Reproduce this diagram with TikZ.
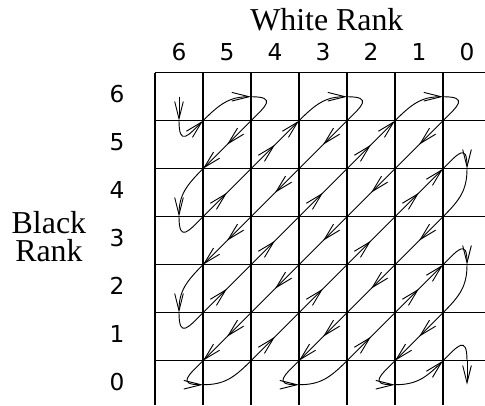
\documentclass[tikz,border=0pt]{standalone}
\usepackage{fontspec}
\setmainfont{Liberation Serif}
\newfontfamily\rankfont{DejaVu Sans}
\usetikzlibrary{arrows.meta, decorations.markings}

\begin{document}
\begin{tikzpicture}[
    x = 1cm, y = 1cm,
    >={Straight Barb[length=3.6mm, width=1.8mm]},
    gridline/.style  = {line width=0.75pt},
    ranknum/.style   = {font=\rankfont\fontsize{13.8}{16}\selectfont, inner sep=0pt, anchor=base},
    axislabel/.style = {font=\fontsize{18.9}{16.6}\selectfont, inner sep=0pt, align=center},
    walk/.style      = {line width=0.55pt},
    seg/.style       = {walk, postaction={decorate},
                        decoration={markings, mark=at position 0.5 with {\arrow{>}}}}
  ]
  \useasboundingbox (-3.229,1.515) rectangle (6.875,-6.923);

  % ── Grid and rank labels ────────────────────────────────────
  \foreach \i in {0,...,6} {
    \draw[gridline] (\i,0) -- (\i,-6.923);
    \draw[gridline] (0,-\i) -- (6.875,-\i);
    \pgfmathtruncatemacro\r{6-\i}
    \node[ranknum] (w\r) at (\i+0.5, 0.265)   {\r};
    \node[ranknum] (b\r) at (-0.79, -\i-0.617) {\r};
  }
  \node[axislabel, anchor=base] (white) at (3.58,0.89)  {White Rank};
  \node[axislabel]              (black) at (-2.21,-3.42) {Black\\Rank};

  % ── Crossings and turning points ────────────────────────────
  \foreach \u in {1,...,6}
    \foreach \v in {1,...,6}
      \coordinate (g-\u-\v) at (\u,-\v);
  \coordinate (in)       at (0.5,-0.5);
  \coordinate (in-tip)   at (0.5,-1);
  \coordinate (top-2)    at (2,-0.5);
  \coordinate (top-4)    at (4,-0.5);
  \coordinate (top-6)    at (6,-0.5);
  \coordinate (left-3)   at (0.5,-3);
  \coordinate (left-5)   at (0.5,-5);
  \coordinate (bot-1)    at (1,-6.5);
  \coordinate (bot-3)    at (3,-6.5);
  \coordinate (bot-5)    at (5,-6.5);
  \coordinate (right-2)  at (6.5,-2);
  \coordinate (right-4)  at (6.5,-4);
  \coordinate (out-bend) at (6.5,-6);
  \coordinate (out)      at (6.5,-6.5);

  % ── Entry ───────────────────────────────────────────────────
  \draw[walk, ->] (in) -- (in-tip);
  \draw[walk, ->] (in-tip) .. controls +(0,-0.55) and +(-0.3,-0.3) .. (g-1-1);

  % Top turn 1 -> 2, diagonal down
  \draw[walk, ->] (g-1-1) .. controls +(0.35,0.35) and +(-0.45,0) .. (top-2);
  \draw[walk] (top-2) .. controls +(0.55,0) and +(0.3,0.3) .. (g-2-1);
  \draw[seg, ->] (g-2-1) -- (g-1-2);

  % Left turn 2 -> 3, diagonal up
  \draw[walk, ->] (g-1-2) .. controls +(-0.35,-0.35) and +(0,0.45) .. (left-3);
  \draw[walk] (left-3) .. controls +(0,-0.55) and +(-0.3,-0.3) .. (g-1-3);
  \draw[seg] (g-1-3) -- (g-2-2);
  \draw[seg, ->] (g-2-2) -- (g-3-1);

  % Top turn 3 -> 4, diagonal down
  \draw[walk, ->] (g-3-1) .. controls +(0.35,0.35) and +(-0.45,0) .. (top-4);
  \draw[walk] (top-4) .. controls +(0.55,0) and +(0.3,0.3) .. (g-4-1);
  \draw[seg] (g-4-1) -- (g-3-2);
  \draw[seg] (g-3-2) -- (g-2-3);
  \draw[seg, ->] (g-2-3) -- (g-1-4);

  % Left turn 4 -> 5, diagonal up
  \draw[walk, ->] (g-1-4) .. controls +(-0.35,-0.35) and +(0,0.45) .. (left-5);
  \draw[walk] (left-5) .. controls +(0,-0.55) and +(-0.3,-0.3) .. (g-1-5);
  \draw[seg] (g-1-5) -- (g-2-4);
  \draw[seg] (g-2-4) -- (g-3-3);
  \draw[seg] (g-3-3) -- (g-4-2);
  \draw[seg, ->] (g-4-2) -- (g-5-1);

  % Top turn 5 -> 6, long diagonal down
  \draw[walk, ->] (g-5-1) .. controls +(0.35,0.35) and +(-0.45,0) .. (top-6);
  \draw[walk] (top-6) .. controls +(0.55,0) and +(0.3,0.3) .. (g-6-1);
  \draw[seg] (g-6-1) -- (g-5-2);
  \draw[seg] (g-5-2) -- (g-4-3);
  \draw[seg] (g-4-3) -- (g-3-4);
  \draw[seg] (g-3-4) -- (g-2-5);
  \draw[seg, ->] (g-2-5) -- (g-1-6);

  % Bottom turn 1 -> 2, diagonal up
  \draw[walk, ->] (g-1-6) .. controls +(-0.3,-0.3) and +(-0.55,0) .. (bot-1);
  \draw[walk] (bot-1) .. controls +(0.45,0) and +(-0.35,-0.35) .. (g-2-6);
  \draw[seg] (g-2-6) -- (g-3-5);
  \draw[seg] (g-3-5) -- (g-4-4);
  \draw[seg] (g-4-4) -- (g-5-3);
  \draw[seg, ->] (g-5-3) -- (g-6-2);

  % Right turn 2 -> 3, diagonal down
  \draw[walk, ->] (g-6-2) .. controls +(0.3,0.3) and +(0,0.55) .. (right-2);
  \draw[walk] (right-2) .. controls +(0,-0.45) and +(0.35,0.35) .. (g-6-3);
  \draw[seg] (g-6-3) -- (g-5-4);
  \draw[seg] (g-5-4) -- (g-4-5);
  \draw[seg, ->] (g-4-5) -- (g-3-6);

  % Bottom turn 3 -> 4, diagonal up
  \draw[walk, ->] (g-3-6) .. controls +(-0.3,-0.3) and +(-0.55,0) .. (bot-3);
  \draw[walk] (bot-3) .. controls +(0.45,0) and +(-0.35,-0.35) .. (g-4-6);
  \draw[seg] (g-4-6) -- (g-5-5);
  \draw[seg, ->] (g-5-5) -- (g-6-4);

  % Right turn 4 -> 5, diagonal down
  \draw[walk, ->] (g-6-4) .. controls +(0.3,0.3) and +(0,0.55) .. (right-4);
  \draw[walk] (right-4) .. controls +(0,-0.45) and +(0.35,0.35) .. (g-6-5);
  \draw[seg, ->] (g-6-5) -- (g-5-6);

  % Bottom turn 5 -> 6, exit
  \draw[walk, ->] (g-5-6) .. controls +(-0.3,-0.3) and +(-0.55,0) .. (bot-5);
  \draw[walk, ->] (bot-5) .. controls +(0.45,0) and +(-0.35,-0.35) .. (g-6-6);
  \draw[walk] (g-6-6) .. controls +(0.3,0.3) and +(0,0.55) .. (out-bend);
  \draw[walk, ->] (out-bend) -- (out);

\end{tikzpicture}
\end{document}
